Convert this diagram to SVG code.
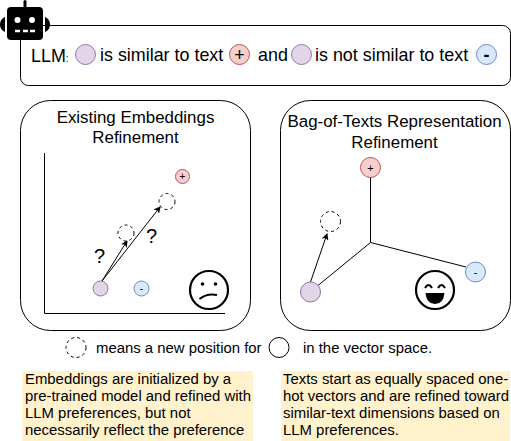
<svg xmlns="http://www.w3.org/2000/svg" width="511" height="441" viewBox="0 0 511 441">
<style>
text{font-family:"Liberation Sans",Arial,sans-serif;fill:#000}
.t18{font-size:17.900px}.t17{font-size:16.900px}.t15{font-size:14.900px}.m{text-anchor:middle}
.box{fill:#fff;stroke:#000;stroke-width:1}
.p{fill:#e1d5e7;stroke:#9673a6}.r{fill:#f8cecc;stroke:#b85450}.b{fill:#dae8fc;stroke:#6c8ebf}
.d{fill:#fff;stroke:#000;stroke-dasharray:3 3}
.c{fill:none;stroke:#000;stroke-width:1}
.a{fill:none;stroke:#000;stroke-width:1;marker-end:url(#ah)}
.face{fill:#fff;stroke:#000;stroke-width:2.200}
</style>
<defs><marker id="ah" markerWidth="7" markerHeight="7" refX="6" refY="3.500" orient="auto" markerUnits="userSpaceOnUse"><path d="M0 0L7 3.500L0 7L1.800 3.500Z" fill="#000"/></marker></defs>
<g id="llm-box">
<rect class="box" x="20.500" y="25.500" width="490" height="60" rx="8"/>
<text class="t18" x="31" y="62">LLM<tspan font-size="10">:</tspan></text>
<circle class="p" cx="85.500" cy="54.500" r="10"/>
<text class="t18" x="100" y="61">is similar to text</text>
<circle class="r" cx="239.500" cy="54.500" r="10"/>
<text class="t18 m" x="239.500" y="61">+</text>
<text class="t18" x="258" y="61">and</text>
<circle class="p" cx="301.500" cy="54.500" r="10"/>
<text class="t18" x="315" y="61">is not similar to text</text>
<circle class="b" cx="486.500" cy="54.500" r="10"/>
<text class="t18 m" x="486.500" y="61" font-weight="bold">-</text>
</g>
<g id="robot">
<rect x="7" y="7" width="36" height="33" rx="4" fill="#000"/>
<rect x="23.500" y="0" width="3" height="8" rx="1.500" fill="#000"/>
<path d="M5 17V32Q0 30 0 24.500Q0 19 5 17ZM45 17V32Q50 30 50 24.500Q50 19 45 17Z" fill="#000"/>
<circle cx="17.500" cy="20" r="3" fill="#fff"/><circle cx="32" cy="20" r="3" fill="#fff"/>
<path d="M15 31h5M23 31h5M30 31h5" stroke="#fff" stroke-width="2.500" fill="none"/>
</g>
<g id="left-panel">
<rect class="box" x="20.500" y="100.500" width="230" height="230" rx="30"/>
<text class="t17 m" x="135.500" y="123">Existing Embeddings</text>
<text class="t17 m" x="135.500" y="143">Refinement</text>
</g>
<g id="right-panel">
<rect class="box" x="280.500" y="100.500" width="230" height="230" rx="30"/>
<text class="t17 m" x="394.500" y="127">Bag-of-Texts Representation</text>
<text class="t17 m" x="394.500" y="148">Refinement</text>
</g>
<g id="connectors">
<path class="c" d="M44.500 153V313.500H225"/>
<path class="a" d="M102 281L127 241"/>
<path class="a" d="M102 281L160 207"/>
<path class="c" d="M370.500 177V242.500L466 267M370.500 242.500L318 285.500"/>
<path class="a" d="M310.500 282L327 234"/>
</g>
<g id="l-purple"><circle class="p" cx="100.500" cy="288.500" r="7.500"/></g>
<g id="l-blue"><circle class="b" cx="141.500" cy="288.500" r="7.500"/><text class="m" font-size="10" x="141.500" y="292">-</text></g>
<g id="l-red"><circle class="r" cx="182.500" cy="176.500" r="7"/><text class="m" font-size="10" x="182.500" y="180">+</text></g>
<g id="l-new1"><circle class="d" cx="126" cy="233" r="8"/></g>
<g id="l-new2"><circle class="d" cx="167" cy="201.500" r="8"/></g>
<text class="m" font-size="20" x="99.500" y="263">?</text>
<text class="m" font-size="20" x="151.500" y="243">?</text>
<g id="sad-face">
<circle class="face" cx="209" cy="290" r="19"/>
<circle cx="202.500" cy="284" r="1.800"/><circle cx="215.500" cy="284" r="1.800"/>
<path d="M199.500 299Q207 293 217 295" fill="none" stroke="#000" stroke-width="2.200"/>
</g>
<g id="r-red"><circle class="r" cx="370.500" cy="167.500" r="10"/><text class="m" font-size="11" x="370.500" y="171.500">+</text></g>
<g id="r-blue"><circle class="b" cx="475.500" cy="272" r="10"/><text class="m" font-size="11" x="475.500" y="276">-</text></g>
<g id="r-purple"><circle class="p" cx="310.500" cy="292" r="10"/></g>
<g id="r-new"><circle class="d" cx="330.500" cy="221.500" r="10"/></g>
<g id="happy-face">
<circle class="face" cx="435" cy="290" r="19"/>
<path d="M425 288Q428.500 282 432 288M438 288Q441.500 282 445 288" fill="none" stroke="#000" stroke-width="2"/>
<path d="M425.500 293H444.500Q443.500 304 435 304Q426.500 304 425.500 293Z" fill="#000"/>
</g>
<g id="legend">
<circle class="d" cx="76" cy="347.500" r="10"/>
<text class="t15" x="96" y="353">means a new position for</text>
<circle cx="279" cy="347.500" r="10" fill="#fff" stroke="#000"/>
<text class="t15" x="303" y="353">in the vector space.</text>
</g>
<g id="note-left">
<rect x="22" y="371" width="231" height="70" fill="#fff2cc"/>
<text class="t15" x="25" y="384">Embeddings are initialized by a</text>
<text class="t15" x="25" y="401">pre-trained model and refined with</text>
<text class="t15" x="25" y="418">LLM preferences, but not</text>
<text class="t15" x="25" y="435">necessarily reflect the preference</text>
</g>
<g id="note-right">
<rect x="281" y="371" width="229" height="70" fill="#fff2cc"/>
<text class="t15" x="283" y="384">Texts start as equally spaced one-</text>
<text class="t15" x="283" y="401">hot vectors and are refined toward</text>
<text class="t15" x="283" y="418">similar-text dimensions based on</text>
<text class="t15" x="283" y="435">LLM preferences.</text>
</g>
</svg>
